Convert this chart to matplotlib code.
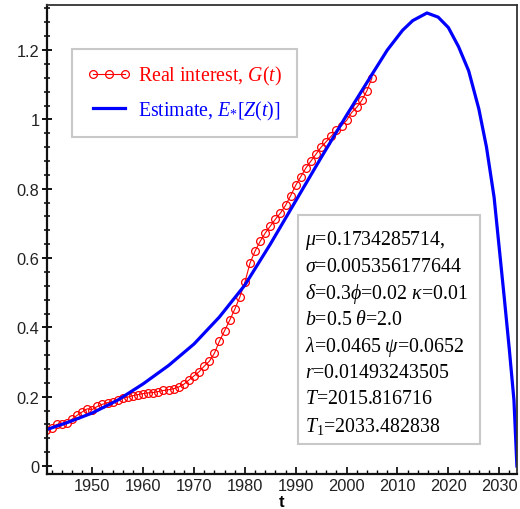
import matplotlib.pyplot as plt
from matplotlib.patches import Rectangle
from matplotlib.ticker import MultipleLocator

# Datos: interés real observado (anual) y estimación E*[Z(t)]
real_years = list(range(1941, 2006))
real_values = [0.105, 0.110, 0.120, 0.122, 0.125, 0.135, 0.146, 0.156, 0.165, 0.163,
               0.172, 0.178, 0.183, 0.186, 0.190, 0.196, 0.199, 0.203, 0.206, 0.209,
               0.211, 0.212, 0.215, 0.218, 0.220, 0.223, 0.228, 0.236, 0.248, 0.260,
               0.272, 0.288, 0.302, 0.325, 0.360, 0.390, 0.420, 0.452, 0.487, 0.530,
               0.585, 0.620, 0.648, 0.672, 0.692, 0.712, 0.730, 0.752, 0.780, 0.810,
               0.835, 0.860, 0.880, 0.900, 0.920, 0.936, 0.952, 0.968, 0.982, 0.997,
               1.020, 1.035, 1.055, 1.083, 1.120]

est_years = [1941, 1945, 1950, 1955, 1960, 1965, 1970, 1975, 1980, 1985, 1990, 1995,
             2000, 2005, 2008, 2011, 2013, 2015.8, 2018, 2020, 2022, 2024, 2026,
             2027.5, 2029, 2030, 2031, 2032, 2032.9, 2033.48]
est_values = [0.105, 0.125, 0.153, 0.190, 0.237, 0.290, 0.352, 0.430, 0.522, 0.640,
              0.765, 0.890, 1.012, 1.130, 1.200, 1.257, 1.285, 1.307, 1.295, 1.265,
              1.210, 1.140, 1.030, 0.920, 0.775, 0.630, 0.485, 0.335, 0.190, 0.0]

param_lines = [r'$\mu$=0.1734285714,',
               r'$\sigma$=0.005356177644',
               r'$\delta$=0.3$\phi$=0.02 $\kappa$=0.01',
               r'$b$=0.5 $\theta$=2.0',
               r'$\lambda$=0.0465 $\psi$=0.0652',
               r'$r$=0.01493243505',
               r'$T$=2015.816716',
               r'$T_{\rm 1}$=2033.482838']

plt.rcParams['mathtext.fontset'] = 'custom'
plt.rcParams['mathtext.rm'] = 'Liberation Serif'
plt.rcParams['mathtext.it'] = 'Liberation Serif:italic'

fig = plt.figure(figsize=(5.2, 5.1), dpi=100)
ax = fig.add_axes([47 / 520, 1 - 475 / 510, 470 / 520, 469 / 510])

ax.plot(real_years, real_values, color='red', lw=0.8, marker='o', ms=5.6,
        mfc='none', mec='red', mew=0.9, label=r'Real interest, $G(t)$')
ax.plot(est_years, est_values, color='blue', lw=2.3,
        label=r'Estimate, $E_{*}[Z(t)]$')

ax.set_xlim(1941.1, 2033.5)
ax.set_ylim(-0.023, 1.330)
ax.xaxis.set_major_locator(MultipleLocator(10))
ax.xaxis.set_minor_locator(MultipleLocator(2))
ax.yaxis.set_major_locator(MultipleLocator(0.2))
ax.yaxis.set_minor_locator(MultipleLocator(0.04))
ax.set_yticks([0, 0.2, 0.4, 0.6, 0.8, 1.0, 1.2])
ax.set_yticklabels(['0', '0.2', '0.4', '0.6', '0.8', '1', '1.2'])

ax.tick_params(axis='y', which='major', direction='inout', length=7, width=1.3,
               labelsize=11.8, pad=2, labelcolor='#222222', labelfontfamily='Liberation Sans')
ax.tick_params(axis='y', which='minor', direction='inout', length=5, width=1.1)
ax.tick_params(axis='x', which='major', direction='in', length=5, width=1.2,
               labelsize=11.8, pad=3, labelcolor='#222222', labelfontfamily='Liberation Sans')
ax.tick_params(axis='x', which='minor', direction='in', length=3, width=1.0)
ax.tick_params(top=False, right=False)

for side in ['left', 'bottom']:
    ax.spines[side].set_linewidth(1.6)
    ax.spines[side].set_color('#111111')
for side in ['top', 'right']:
    ax.spines[side].set_linewidth(1.3)
    ax.spines[side].set_color('#333333')

ax.set_xlabel('t', fontsize=12, fontweight='bold', family='Liberation Sans', labelpad=0.5)

leg = ax.legend(loc='upper left', bbox_to_anchor=(0.053, 0.906), borderaxespad=0,
                prop={'family': 'Liberation Serif', 'size': 14.3}, numpoints=3,
                handlelength=2.2, handletextpad=0.4, labelspacing=0.6,
                borderpad=0.75, fancybox=False, framealpha=1)
leg.get_frame().set_edgecolor('#c8c8c8')
leg.get_frame().set_linewidth(1.5)
for txt, col in zip(leg.get_texts(), ['red', 'blue']):
    txt.set_color(col)

# Cuadro de parámetros
ax.add_patch(Rectangle((0.534, 0.064), 0.387, 0.488, transform=ax.transAxes,
                       facecolor='white', edgecolor='#c8c8c8', lw=1.5, zorder=3))
for i, line in enumerate(param_lines):
    y_px = 241 + i * 26.5
    ax.text(0.549, (475 - y_px) / 469, line, transform=ax.transAxes, va='center',
            ha='left', fontsize=14.3, family='Liberation Serif', zorder=4)

plt.savefig('out.png', dpi=100)
